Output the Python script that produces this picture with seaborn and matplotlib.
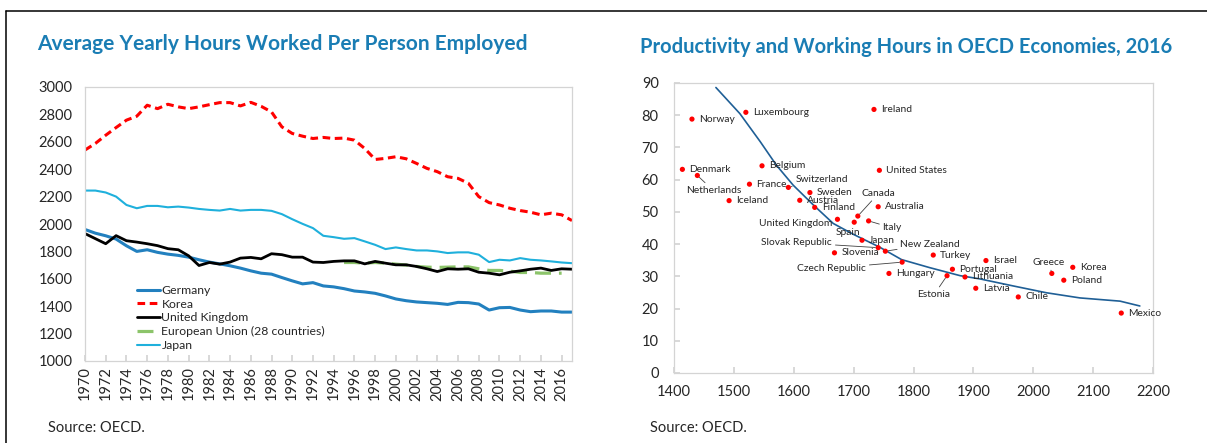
import numpy as np
import pandas as pd
import seaborn as sns
import matplotlib.pyplot as plt
from matplotlib.lines import Line2D

# ---- Average yearly hours worked per person employed ----
years = list(range(1970, 2018))
germany = [1960, 1933, 1914, 1890, 1841, 1800, 1812, 1793, 1780, 1771,
           1758, 1739, 1722, 1709, 1695, 1678, 1658, 1641, 1634, 1609,
           1585, 1563, 1572, 1548, 1541, 1528, 1511, 1504, 1494, 1475,
           1453, 1440, 1431, 1426, 1421, 1413, 1428, 1426, 1416, 1372,
           1389, 1391, 1372, 1360, 1365, 1365, 1357, 1357]
korea = [2540, 2588, 2648, 2704, 2758, 2787, 2867, 2842, 2874, 2855,
         2842, 2855, 2871, 2886, 2886, 2862, 2888, 2859, 2818, 2709,
         2661, 2641, 2624, 2632, 2624, 2627, 2612, 2551, 2471, 2479,
         2491, 2476, 2442, 2406, 2382, 2345, 2333, 2297, 2200, 2156,
         2139, 2115, 2098, 2086, 2067, 2079, 2067, 2025]
united_kingdom = [1930, 1893, 1856, 1915, 1878, 1868, 1856, 1842, 1820, 1812,
                  1768, 1697, 1719, 1707, 1722, 1751, 1756, 1746, 1783, 1776,
                  1758, 1758, 1722, 1719, 1727, 1731, 1731, 1709, 1727, 1714,
                  1702, 1702, 1690, 1673, 1653, 1673, 1670, 1673, 1648, 1641,
                  1629, 1648, 1658, 1670, 1678, 1661, 1673, 1670]
japan = [2244, 2244, 2230, 2200, 2139, 2115, 2132, 2132, 2122, 2127,
         2120, 2110, 2103, 2098, 2110, 2098, 2103, 2103, 2096, 2072,
         2035, 2001, 1970, 1914, 1904, 1892, 1897, 1873, 1848, 1817,
         1829, 1817, 1807, 1807, 1800, 1788, 1793, 1793, 1776, 1722,
         1739, 1734, 1751, 1739, 1734, 1727, 1719, 1714]
eu_years = list(range(1995, 2017))
eu28 = [1719, 1719, 1714, 1719, 1714, 1707, 1700, 1690, 1685, 1683, 1685,
        1687, 1687, 1673, 1661, 1661, 1656, 1646, 1646, 1641, 1641, 1641]

# ---- Productivity vs hours, 2016 ----
countries = ["Norway", "Luxembourg", "Ireland", "Denmark", "Netherlands",
             "Belgium", "United States", "France", "Switzerland", "Sweden",
             "Iceland", "Austria", "Australia", "Finland", "Canada",
             "United Kingdom", "Spain", "Italy", "Japan", "Slovak Republic",
             "New Zealand", "Slovenia", "Czech Republic", "Hungary", "Turkey",
             "Portugal", "Estonia", "Israel", "Lithuania", "Latvia", "Chile",
             "Greece", "Korea", "Poland", "Mexico"]
hours = [1430, 1520, 1734, 1414, 1439, 1547, 1743, 1526, 1591, 1627,
         1492, 1610, 1741, 1635, 1707, 1673, 1701, 1725, 1714, 1741,
         1753, 1668, 1781, 1759, 1833, 1865, 1856, 1921, 1886, 1904,
         1975, 2031, 2066, 2051, 2147]
productivity = [78.8, 80.9, 81.8, 63.2, 61.3, 64.3, 62.9, 58.6, 57.6, 56.0,
                53.5, 53.6, 51.6, 51.4, 48.7, 47.7, 46.8, 47.2, 41.2, 38.9,
                37.8, 37.3, 34.4, 30.9, 36.6, 32.2, 30.2, 34.9, 29.8, 26.3,
                23.6, 30.9, 32.8, 28.8, 18.6]
trend_hours = [1470, 1510, 1544, 1571, 1599, 1633, 1666, 1700, 1744, 1780,
               1827, 1878, 1911, 1967, 2022, 2078, 2145, 2178]
trend_prod = [88.6, 80.5, 71.8, 64.5, 58.3, 52.1, 46.4, 43.0, 39.0, 35.2,
              32.7, 30.2, 29.2, 27.0, 24.9, 23.3, 22.3, 20.8]

# label offsets in pixels (dx right, dy down) and alignment; leader flag
label_layout = {
    "Netherlands": (16, 15, "center", True),
    "Switzerland": (7, -8, "left", True),
    "United Kingdom": (-5, 4, "right", False),
    "Spain": (-6, 10, "center", False),
    "Canada": (21, -23, "center", True),
    "Italy": (14, 7, "left", True),
    "Slovak Republic": (-46, -5, "right", True),
    "New Zealand": (15, -7, "left", True),
    "Czech Republic": (-36, 6, "right", True),
    "Estonia": (-13, 19, "center", True),
    "Greece": (-3, -11, "center", True),
}

sns.set_theme(style="white")
plt.rcParams["font.family"] = ["Lato", "DejaVu Sans"]

W, H = 1207, 443
fig = plt.figure(figsize=(W / 100, H / 100), dpi=100)

TITLE_C = "#1a7db4"
TEXT_C = "#262626"
SPINE_C = "#d4d4d4"
PX = 0.72  # points per pixel


def fx(px):
    return px / W


def fy(py):
    return 1 - py / H


# outer frame
fig.add_artist(Line2D([fx(6), 1], [fy(11), fy(11)], color="black", lw=1.1))
fig.add_artist(Line2D([fx(6), fx(6)], [fy(11), 0], color="black", lw=1.1))

fig.text(fx(37), fy(44), "Average Yearly Hours Worked Per Person Employed",
         color=TITLE_C, fontsize=15, fontweight="bold", va="center", ha="left")
fig.text(fx(640), fy(47), "Productivity and Working Hours in OECD Economies, 2016",
         color=TITLE_C, fontsize=14.5, fontweight="bold", va="center", ha="left")
fig.text(fx(48), fy(428), "Source: OECD.", color=TEXT_C, fontsize=10.5, va="center")
fig.text(fx(650), fy(428), "Source: OECD.", color=TEXT_C, fontsize=10.5, va="center")

# ---------------- left panel ----------------
axL = fig.add_axes([fx(85), fy(361), fx(572) - fx(85), fy(87) - fy(361)])
df = pd.DataFrame({"year": years, "Germany": germany, "Korea": korea,
                   "United Kingdom": united_kingdom, "Japan": japan})
eu_df = pd.DataFrame({"year": eu_years, "eu": eu28})

sns.lineplot(data=df, x="year", y="Japan", ax=axL, color="#1fb0dc", lw=1.5)
sns.lineplot(data=df, x="year", y="Germany", ax=axL, color="#2280bf", lw=2.2)
sns.lineplot(data=eu_df, x="year", y="eu", ax=axL, color="#8cc46a", lw=2.3,
             linestyle=(0, (5, 2.5)))
sns.lineplot(data=df, x="year", y="United Kingdom", ax=axL, color="black", lw=2.0)
sns.lineplot(data=df, x="year", y="Korea", ax=axL, color="#ff0000", lw=2.2,
             linestyle=(0, (2.5, 1.5)))

axL.set_xlim(1970, 2017)
axL.set_ylim(1000, 3000)
axL.set_xlabel("")
axL.set_ylabel("")
axL.set_xticks(list(range(1970, 2017, 2)))
axL.set_xticklabels([str(y) for y in range(1970, 2017, 2)], rotation=90)
axL.set_yticks(list(range(1000, 3001, 200)))
axL.tick_params(axis="x", direction="in", length=4, color=SPINE_C, pad=4,
                labelsize=10.5, labelcolor=TEXT_C, bottom=True)
axL.tick_params(axis="y", length=0, pad=9, labelsize=10.5, labelcolor=TEXT_C)
for s in axL.spines.values():
    s.set_color(SPINE_C)
    s.set_linewidth(0.9)

handles = [
    Line2D([], [], color="#2280bf", lw=2.2),
    Line2D([], [], color="#ff0000", lw=2.2, linestyle=(0, (2.5, 1.5))),
    Line2D([], [], color="black", lw=2.0),
    Line2D([], [], color="#8cc46a", lw=2.3, linestyle=(0, (5, 2.5))),
    Line2D([], [], color="#1fb0dc", lw=1.5),
]
labels = ["Germany", "Korea", "United Kingdom", "European Union (28 countries)", "Japan"]
axL.legend(handles, labels, loc="upper left", bbox_to_anchor=(fx(137), fy(285)),
           bbox_transform=fig.transFigure, frameon=False, fontsize=8.8,
           handlelength=1.9, handletextpad=0.1, labelspacing=0.22,
           borderpad=0, borderaxespad=0, labelcolor=TEXT_C)

# ---------------- right panel ----------------
axR = fig.add_axes([fx(674), fy(373), fx(1153) - fx(674), fy(83) - fy(373)])
sc = pd.DataFrame({"country": countries, "hours": hours, "prod": productivity})
tr = pd.DataFrame({"hours": trend_hours, "prod": trend_prod})

sns.lineplot(data=tr, x="hours", y="prod", ax=axR, color="#1f5f96", lw=1.2,
             sort=False)
sns.scatterplot(data=sc, x="hours", y="prod", ax=axR, color="#ff0000",
                s=14, edgecolor="none", zorder=3)

axR.set_xlim(1400, 2200)
axR.set_ylim(0, 90)
axR.set_xlabel("")
axR.set_ylabel("")
axR.set_xticks(list(range(1400, 2201, 100)))
axR.set_yticks(list(range(0, 91, 10)))
axR.tick_params(axis="x", direction="in", length=4, color=SPINE_C, pad=9,
                labelsize=10.5, labelcolor=TEXT_C, bottom=True)
axR.tick_params(axis="y", direction="in", length=4, color=SPINE_C, pad=11,
                labelsize=10.5, labelcolor=TEXT_C, left=True)
for s in axR.spines.values():
    s.set_color(SPINE_C)
    s.set_linewidth(0.9)

for name, hx, py in zip(countries, hours, productivity):
    dx, dy, ha, leader = label_layout.get(name, (7, 0, "left", False))
    arrow = None
    if leader:
        arrow = dict(arrowstyle="-", color="#404040", lw=0.6,
                     shrinkA=0, shrinkB=2)
    axR.annotate(name, (hx, py), xytext=(dx * PX, -dy * PX),
                 textcoords="offset points", ha=ha, va="center",
                 fontsize=7.4, color=TEXT_C, arrowprops=arrow, zorder=4)

fig.savefig("out.png", dpi=100)
